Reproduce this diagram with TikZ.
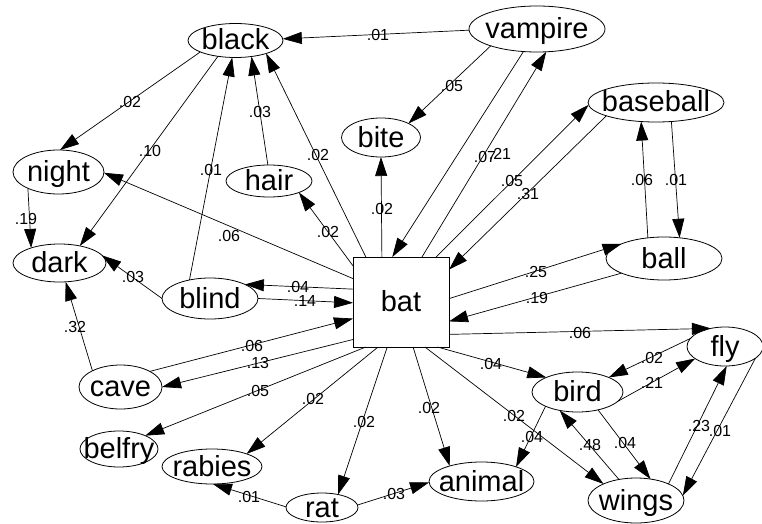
\documentclass[tikz,border=0pt]{standalone}
\usepackage{fontspec}
\newfontfamily\arialfam{Liberation Sans}
\usetikzlibrary{shapes.geometric,arrows.meta}
\newcommand\ndfont{\arialfam\fontsize{29}{29}\selectfont}
\newcommand\lbfont{\arialfam\fontsize{16}{16}\selectfont}
\tikzset{
  nd/.style={ellipse, draw, line width=0.8pt, inner sep=0pt, outer sep=0pt, font=\ndfont, text height=19pt, text depth=0pt},
  bx/.style={rectangle, draw, line width=0.8pt, inner sep=0pt, outer sep=0pt, font=\ndfont, text height=19pt, text depth=0pt},
  arr/.style={-{Triangle[length=19pt,width=12pt]}, line width=0.7pt},
  lbl/.style={font=\lbfont, inner sep=0pt}
}
\begin{document}
\begin{tikzpicture}[x=1pt,y=-1pt]
\useasboundingbox (0,0) rectangle (762,524);
% nodes
\node[nd, minimum width=95pt, minimum height=34pt] (black) at (235.5,40.5) {\makebox[0pt]{black}};
\node[nd, minimum width=136pt, minimum height=46pt] (vampire) at (537,29) {\makebox[0pt]{vampire}};
\node[nd, minimum width=79pt, minimum height=39pt] (bite) at (381,137.5) {\makebox[0pt]{bite}};
\node[nd, minimum width=136pt, minimum height=39pt] (baseball) at (656,102.5) {\makebox[0pt]{baseball}};
\node[nd, minimum width=116pt, minimum height=43pt] (ball) at (664,258.5) {\makebox[0pt]{ball}};
\node[nd, minimum width=91pt, minimum height=44pt] (night) at (58.5,172) {\makebox[0pt]{night}};
\node[nd, minimum width=86pt, minimum height=32pt] (hair) at (269,181) {\makebox[0pt]{hair}};
\node[nd, minimum width=93pt, minimum height=38pt] (dark) at (59.5,263) {\makebox[0pt]{dark}};
\node[nd, minimum width=96pt, minimum height=41pt] (blind) at (210,298.5) {\makebox[0pt]{blind}};
\node[bx, minimum width=96pt, minimum height=90pt] (bat) at (401,302) {\makebox[0pt]{bat}};
\node[nd, minimum width=83pt, minimum height=44pt] (cave) at (120.5,387) {\makebox[0pt]{cave}};
\node[nd, minimum width=78pt, minimum height=36pt] (belfry) at (119,449) {\makebox[0pt]{belfry}};
\node[nd, minimum width=100pt, minimum height=35pt] (rabies) at (212,466.5) {\makebox[0pt]{rabies}};
\node[nd, minimum width=72pt, minimum height=29pt] (rat) at (322,507.5) {\makebox[0pt]{rat}};
\node[nd, minimum width=105pt, minimum height=39pt] (animal) at (481.5,481.5) {\makebox[0pt]{animal}};
\node[nd, minimum width=91pt, minimum height=40pt] (bird) at (577.5,392) {\makebox[0pt]{bird}};
\node[nd, minimum width=76pt, minimum height=39pt] (fly) at (725,346.5) {\makebox[0pt]{fly}};
\node[nd, minimum width=96pt, minimum height=45pt] (wings) at (636,500.5) {\makebox[0pt]{wings}};
% edges
\draw[arr] (vampire.181) -- (black.2) node[lbl] at (378,35) {.01};
\draw[arr] (vampire.200) -- (bite.27) node[lbl] at (452,86) {.05};
\draw[arr] (vampire.239) -- (bat.101) node[lbl] at (485,157) {.07};
\draw[arr] (bat.65) -- (vampire.292) node[lbl] at (500,154) {.21};
\draw[arr] (bat.52) -- (baseball.182) node[lbl] at (512,181) {.05};
\draw[arr] (baseball.195) -- (bat.34) node[lbl] at (528,194) {.31};
\draw[arr] (baseball.309) -- (ball.53) node[lbl] at (676,180) {.01};
\draw[arr] (ball.128) -- (baseball.232) node[lbl] at (642,180) {.06};
\draw[arr] (bat.4) -- (ball.161) node[lbl] at (536,272) {.25};
\draw[arr] (ball.199) -- (bat.338) node[lbl] at (537,298) {.19};
\draw[arr] (bat.326) -- (fly.128) node[lbl] at (580,333) {.06};
\draw[arr] (bat.309) -- (bird.155) node[lbl] at (491,364) {.04};
\draw[arr] (bat.298) -- (wings.153) node[lbl] at (514,416) {.02};
\draw[arr] (bat.285) -- (animal.154) node[lbl] at (429,408) {.02};
\draw[arr] (bat.253) -- (rat.39) node[lbl] at (364,422) {.02};
\draw[arr] (bat.243) -- (rabies.20) node[lbl] at (313,399) {.02};
\draw[arr] (bat.232) -- (belfry.27) node[lbl] at (258,391) {.05};
\draw[arr] (bat.218) -- (cave.0) node[lbl] at (258,363) {.13};
\draw[arr] (cave.28) -- (bat.199) node[lbl] at (252,346) {.06};
\draw[arr] (blind.0) -- (bat.181) node[lbl] at (305,301) {.14};
\draw[arr] (bat.165) -- (blind.22) node[lbl] at (298,287) {.04};
\draw[arr] (blind.180) -- (dark.10) node[lbl] at (133,277) {.03};
\draw[arr] (blind.138) -- (black.259) node[lbl] at (211,170) {.01};
\draw[arr] (hair.94) -- (black.315) node[lbl] at (260,112) {.03};
\draw[arr] (bat.128) -- (black.337) node[lbl] at (318,155) {.02};
\draw[arr] (bat.143) -- (hair.339) node[lbl] at (328,232) {.02};
\draw[arr] (bat.154) -- (night.359) node[lbl] at (229,236) {.06};
\draw[arr] (bat.113) -- (bite.270) node[lbl] at (382,209) {.02};
\draw[arr] (black.198) -- (night.86) node[lbl] at (130,102) {.02};
\draw[arr] (black.222) -- (dark.40) node[lbl] at (150,151) {.10};
\draw[arr] (night.208) -- (dark.152) node[lbl] at (26,219) {.19};
\draw[arr] (cave.150) -- (dark.288) node[lbl] at (75,327) {.32};
\draw[arr] (rat.179) -- (rabies.273) node[lbl] at (249,497) {.01};
\draw[arr] (rat.4) -- (animal.181) node[lbl] at (394,494) {.03};
\draw[arr] (bird.347) -- (fly.202) node[lbl] at (652,383) {.21};
\draw[arr] (fly.167) -- (bird.25) node[lbl] at (652,358) {.02};
\draw[arr] (bird.319) -- (wings.56) node[lbl] at (625,443) {.04};
\draw[arr] (wings.129) -- (bird.226) node[lbl] at (590,445) {.48};
\draw[arr] (bird.204) -- (animal.23) node[lbl] at (532,437) {.04};
\draw[arr] (wings.27) -- (fly.275) node[lbl] at (699,426) {.23};
\draw[arr] (fly.339) -- (wings.6) node[lbl] at (720,431) {.01};
\end{tikzpicture}
\end{document}
